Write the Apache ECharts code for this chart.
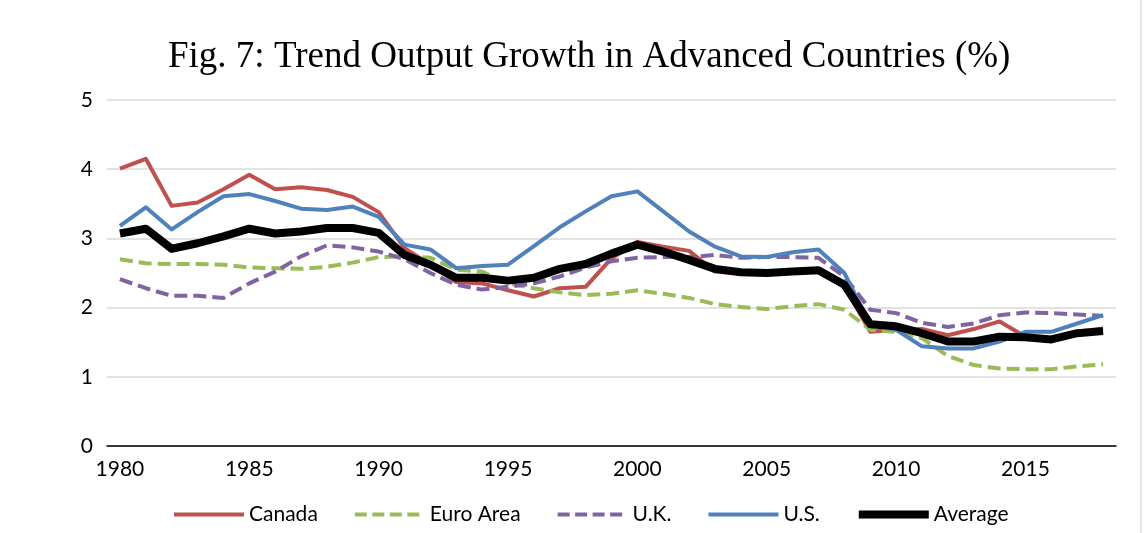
<!DOCTYPE html>
<html>
<head>
<meta charset="utf-8">
<script src="https://cdn.jsdelivr.net/npm/echarts@6/dist/echarts.min.js"></script>
<style>
html,body{margin:0;padding:0;background:#fff;}
#c{width:1147px;height:533px;}
</style>
</head>
<body>
<div id="c"></div>
<script>
const years = [];
for (let y = 1980; y <= 2018; y++) years.push(String(y));

const canada = [4.01,4.15,3.47,3.52,3.71,3.92,3.71,3.74,3.70,3.60,
  3.38,2.86,2.62,2.37,2.35,2.25,2.16,2.28,2.30,2.71,
  2.95,2.88,2.82,2.52,2.49,2.49,2.51,2.53,2.31,1.65,
  1.68,1.69,1.60,1.69,1.80,1.58,1.52,1.65,1.70];
const euro = [2.70,2.64,2.63,2.63,2.62,2.58,2.57,2.56,2.59,2.65,
  2.73,2.74,2.72,2.55,2.52,2.35,2.28,2.22,2.18,2.20,
  2.25,2.20,2.14,2.05,2.01,1.98,2.02,2.05,1.97,1.68,
  1.65,1.56,1.30,1.17,1.12,1.11,1.11,1.15,1.18];
const uk = [2.41,2.28,2.17,2.17,2.14,2.35,2.52,2.74,2.90,2.87,
  2.81,2.70,2.50,2.33,2.26,2.30,2.35,2.45,2.58,2.67,
  2.72,2.73,2.73,2.76,2.72,2.73,2.73,2.72,2.45,1.97,
  1.92,1.78,1.72,1.77,1.89,1.93,1.92,1.90,1.88];
const us = [3.18,3.45,3.13,3.38,3.61,3.64,3.54,3.43,3.41,3.46,
  3.31,2.91,2.84,2.57,2.60,2.62,2.89,3.16,3.39,3.61,
  3.68,3.39,3.10,2.88,2.74,2.73,2.80,2.84,2.50,1.75,
  1.68,1.44,1.41,1.41,1.51,1.65,1.65,1.77,1.89];
const average = [3.07,3.14,2.85,2.93,3.03,3.14,3.07,3.10,3.15,3.15,
  3.08,2.76,2.62,2.43,2.43,2.39,2.43,2.56,2.63,2.78,
  2.91,2.81,2.69,2.56,2.51,2.50,2.52,2.54,2.33,1.76,
  1.73,1.63,1.51,1.51,1.58,1.57,1.54,1.63,1.66];
const yTicks = [0,1,2,3,4,5];

const seriesDefs = [
  {name:'Canada', data:canada, color:'#C0504D', width:4, dashed:false},
  {name:'Euro Area', data:euro, color:'#9BBB59', width:4, dashed:true},
  {name:'U.K.', data:uk, color:'#8064A2', width:4, dashed:true},
  {name:'U.S.', data:us, color:'#4F81BD', width:4, dashed:false},
  {name:'Average', data:average, color:'#000000', width:8, dashed:false}
];
const dashPat = [13,6];

const chart = echarts.init(document.getElementById('c'), null, {renderer:'canvas'});
chart.setOption({
  animation:false,
  title:{text:'Fig. 7: Trend Output Growth in Advanced Countries (%)', left:163, top:34,
    textStyle:{fontFamily:'Liberation Serif', fontSize:37, fontWeight:'normal', color:'#000'}},
  grid:{left:107, right:31, top:100, bottom:87},
  legend:{bottom:3, left:167, itemWidth:70, itemHeight:10, itemGap:35,
    itemStyle:{opacity:0},
    textStyle:{fontFamily:'Lato', fontSize:21, color:'#000', padding:[0,0,0,0]},
    data: seriesDefs.map(s => ({name:s.name,
      lineStyle:{width:s.width, color:s.color, type: s.dashed ? [12,5.5] : 'solid'}}))},
  xAxis:{type:'category', data:years, boundaryGap:true,
    axisLine:{lineStyle:{color:'#000', width:1.5}},
    axisTick:{interval:4, length:6, lineStyle:{color:'#000', width:1.5}},
    axisLabel:{interval:4, margin:13, fontFamily:'Lato', fontSize:21, color:'#000'},
    splitLine:{show:false}},
  yAxis:{type:'value', min:yTicks[0], max:yTicks[yTicks.length-1], interval:1,
    axisLine:{show:false}, axisTick:{show:false},
    axisLabel:{margin:14, fontFamily:'Lato', fontSize:21, color:'#000'},
    splitLine:{lineStyle:{color:'#d9d9d9', width:1.5}}},
  series: seriesDefs.map((s, i) => ({
    name:s.name, type:'line', data:s.data, symbol:'none', showSymbol:false, z:2+i,
    lineStyle:{color:s.color, width:s.width, type: s.dashed ? dashPat : 'solid', cap:'butt', join:'round'},
    itemStyle:{color:s.color}
  })),
  graphic:[{type:'line', shape:{x1:1141, y1:0, x2:1141, y2:533}, style:{stroke:'#d0d0d0', lineWidth:1}}]
});
</script>
</body>
</html>
